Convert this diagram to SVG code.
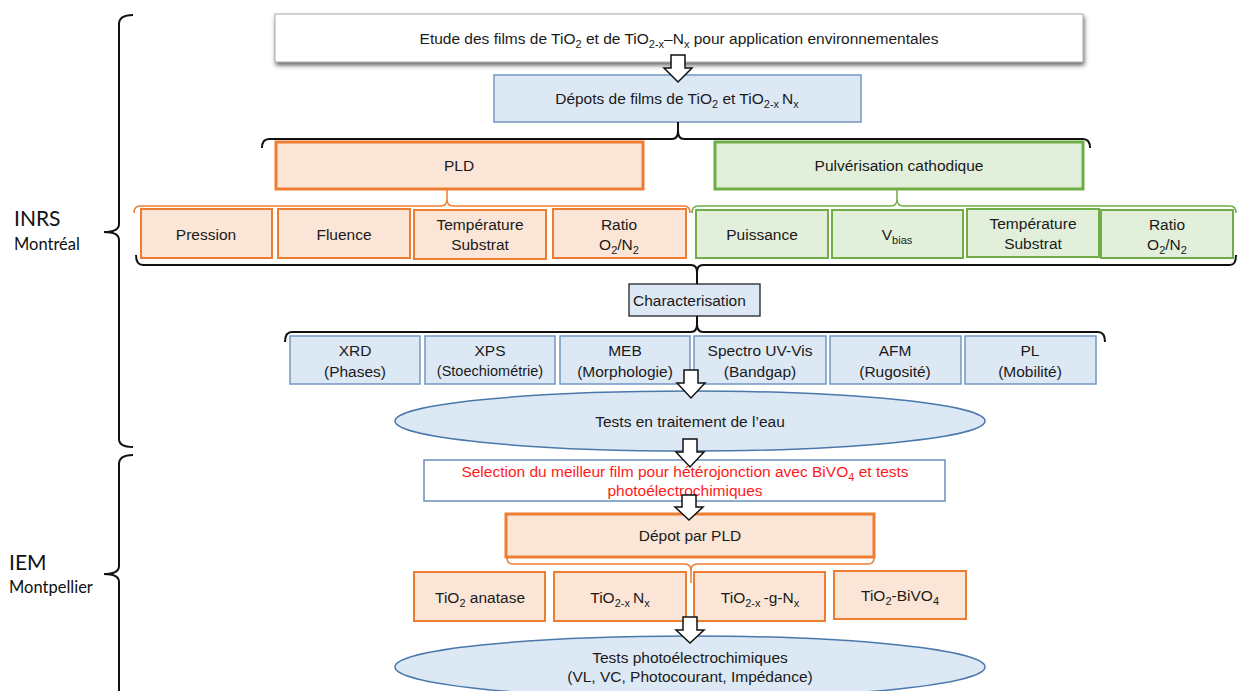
<svg xmlns="http://www.w3.org/2000/svg" width="1238" height="691" viewBox="0 0 1238 691">
<defs>
<filter id="sh" x="-5%" y="-30%" width="110%" height="170%">
<feDropShadow dx="1" dy="3" stdDeviation="2" flood-color="#444" flood-opacity="0.8"/>
</filter>
<style>
text{font-family:"Liberation Sans",Arial,sans-serif;font-size:15.5px;fill:#1a1a1a;text-anchor:middle}
tspan.s{font-size:11px}
text.lbl{font-family:Lato,"Open Sans",sans-serif;text-anchor:start;fill:#111}
text.big{font-size:21px}
text.med{font-size:16.5px}
text.sm{font-size:14.5px}
text.red{fill:#ff1a1a}
.blue{fill:#dde8f5;stroke:#7396c2;stroke-width:1.5}
.or{fill:#fbe5d6;stroke:#ed7d31;stroke-width:2}
.orT{fill:#fbe5d6;stroke:#ed7d31;stroke-width:3}
.gr{fill:#e2efda;stroke:#70ad47;stroke-width:2}
.grT{fill:#e2efda;stroke:#70ad47;stroke-width:3}
.ell{fill:#dde8f5;stroke:#4a78ab;stroke-width:1.5}
.br{fill:none;stroke:#111;stroke-width:2}
.brO{fill:none;stroke:#ed7d31;stroke-width:1.5}
.brG{fill:none;stroke:#70ad47;stroke-width:1.5}
.arr{fill:#fff;stroke:#111;stroke-width:1.5}
</style>
</defs>

<g id="labels">
<text class="lbl big" x="14" y="226">INRS</text>
<text class="lbl med" x="14" y="250">Montréal</text>
<text class="lbl big" x="9" y="570">IEM</text>
<text class="lbl med" x="9" y="593">Montpellier</text>
</g>

<g id="braces">
<path class="br" d="M133,15 Q119,15 119,24 V224 Q119,232 104,232 Q119,232 119,240 V439 Q119,447 133,447"/>
<path class="br" d="M133,455 Q119,455 119,464 V566 Q119,574 104,574 Q119,574 119,582 V700"/>
</g>

<g id="n-top"><rect x="275" y="14" width="808" height="48" fill="#fff" stroke="#aaa" stroke-width="1" filter="url(#sh)"/>
<text x="679" y="44">Etude des films de TiO<tspan class="s" dy="4">2</tspan><tspan dy="-4"> et de TiO</tspan><tspan class="s" dy="4">2-x</tspan><tspan dy="-4">–N</tspan><tspan class="s" dy="4">x</tspan><tspan dy="-4"> pour application environnementales</tspan></text></g>

<g id="n-depots"><rect class="blue" x="494" y="75" width="367" height="47"/>
<text x="677" y="104">Dépots de films de TiO<tspan class="s" dy="4">2</tspan><tspan dy="-4"> et TiO</tspan><tspan class="s" dy="4">2-x </tspan><tspan dy="-4">N</tspan><tspan class="s" dy="4">x</tspan></text></g>

<g id="n-pld"><rect class="orT" x="276" y="142" width="367" height="47"/><text x="459" y="171">PLD</text></g>
<g id="n-pulv"><rect class="grT" x="715" y="142" width="368" height="47"/><text x="899" y="171">Pulvérisation cathodique</text></g>

<g id="n-pression"><rect class="or" x="141" y="209" width="131" height="49"/><text x="206" y="240">Pression</text></g>
<g id="n-fluence"><rect class="or" x="278" y="209" width="132" height="49"/><text x="344" y="240">Fluence</text></g>
<g id="n-temp1"><rect class="or" x="414" y="210" width="132" height="49"/><text x="480" y="230">Température</text><text x="480" y="250">Substrat</text></g>
<g id="n-ratio1"><rect class="or" x="553" y="209" width="133" height="49"/><text x="619" y="230">Ratio</text><text x="619" y="250">O<tspan class="s" dy="4">2</tspan><tspan dy="-4">/N</tspan><tspan class="s" dy="4">2</tspan></text></g>

<g id="n-puissance"><rect class="gr" x="696" y="210" width="132" height="48"/><text x="762" y="240">Puissance</text></g>
<g id="n-vbias"><rect class="gr" x="832" y="210" width="131" height="48"/><text x="897" y="240">V<tspan class="s" dy="4">bias</tspan></text></g>
<g id="n-temp2"><rect class="gr" x="967" y="209" width="132" height="48"/><text x="1033" y="229">Température</text><text x="1033" y="249">Substrat</text></g>
<g id="n-ratio2"><rect class="gr" x="1101" y="210" width="132" height="48"/><text x="1167" y="230">Ratio</text><text x="1167" y="250">O<tspan class="s" dy="4">2</tspan><tspan dy="-4">/N</tspan><tspan class="s" dy="4">2</tspan></text></g>

<g id="n-charac"><rect class="blue" x="629" y="284" width="131" height="32" style="stroke:#222;stroke-width:1.3"/><text x="633" y="306" style="text-anchor:start">Characterisation</text></g>

<g id="n-xrd"><rect class="blue" x="290" y="336" width="130" height="48"/><text x="355" y="356">XRD</text><text x="355" y="377">(Phases)</text></g>
<g id="n-xps"><rect class="blue" x="425" y="336" width="130" height="48"/><text x="490" y="356">XPS</text><text class="sm" x="490" y="376">(Stoechiométrie)</text></g>
<g id="n-meb"><rect class="blue" x="560" y="336" width="130" height="48"/><text x="625" y="356">MEB</text><text x="625" y="377">(Morphologie)</text></g>
<g id="n-spectro"><rect class="blue" x="694" y="336" width="132" height="48"/><text x="760" y="356">Spectro UV-Vis</text><text x="760" y="377">(Bandgap)</text></g>
<g id="n-afm"><rect class="blue" x="830" y="336" width="131" height="48"/><text x="895" y="356">AFM</text><text x="895" y="377">(Rugosité)</text></g>
<g id="n-pl"><rect class="blue" x="965" y="336" width="131" height="48"/><text x="1030" y="356">PL</text><text x="1030" y="377">(Mobilité)</text></g>

<g id="n-tests-eau"><ellipse class="ell" cx="690" cy="421" rx="295" ry="30"/><text x="690" y="427">Tests en traitement de l’eau</text></g>

<g id="n-selection"><rect x="424" y="460" width="521" height="41" fill="#fff" stroke="#6a8fbd" stroke-width="1.5"/>
<text class="red" x="685" y="477">Selection du meilleur film pour hétérojonction avec BiVO<tspan class="s" dy="4">4</tspan><tspan dy="-4"> et tests</tspan></text>
<text class="red" x="685" y="496">photoélectrochimiques</text></g>

<g id="n-depot-pld"><rect class="orT" x="506" y="514" width="368" height="43"/><text x="690" y="541">Dépot par PLD</text></g>

<g id="n-anatase"><rect class="or" x="414" y="572" width="131" height="49"/><text x="480" y="603">TiO<tspan class="s" dy="4">2</tspan><tspan dy="-4"> anatase</tspan></text></g>
<g id="n-tio2xnx"><rect class="or" x="554" y="572" width="132" height="49"/><text x="620" y="603">TiO<tspan class="s" dy="4">2-x </tspan><tspan dy="-4">N</tspan><tspan class="s" dy="4">x</tspan></text></g>
<g id="n-tio2xgnx"><rect class="or" x="694" y="572" width="131" height="49"/><text x="760" y="603">TiO<tspan class="s" dy="4">2-x </tspan><tspan dy="-4">-g-N</tspan><tspan class="s" dy="4">x</tspan></text></g>
<g id="n-bivo4"><rect class="or" x="834" y="571" width="132" height="48"/><text x="900" y="601">TiO<tspan class="s" dy="4">2</tspan><tspan dy="-4">-BiVO</tspan><tspan class="s" dy="4">4</tspan></text></g>

<g id="n-tests-photo"><ellipse class="ell" cx="690" cy="667" rx="295" ry="31"/><text x="690" y="663">Tests photoélectrochimiques</text><text x="690" y="682">(VL, VC, Photocourant, Impédance)</text></g>

<g id="connectors">
<path class="br" d="M678,122 V131 M262,148 Q262,139 269,139 H672 Q678,139 678,131 Q678,139 684,139 H1083 Q1090,139 1090,148"/>
<path class="brO" d="M447,189 V199 M134,213 Q134,206 140,206 H441 Q447,206 447,199 Q447,206 453,206 H684 Q690,206 690,213"/>
<path class="brG" d="M897,189 V199 M692,213 Q692,206 698,206 H891 Q897,206 897,199 Q897,206 903,206 H1230 Q1236,206 1236,213"/>
<path class="br" d="M136,255 Q136,265 143,265 H691 Q697,265 697,272 V284 M697,272 Q697,265 703,265 H1230 Q1236,265 1236,255"/>
<path class="br" d="M697,316 V324 M285,342 Q285,332 292,332 H691 Q697,332 697,324 Q697,332 703,332 H1098 Q1105,332 1105,342"/>
<path class="brO" d="M507,558 Q507,564 513,564 H685 Q691,564 691,571 V583 M691,571 Q691,564 697,564 H868 Q874,564 874,558"/>
<path class="arr" d="M671,55 H685 V68 H692 L678,82 L664,68 H671 Z"/>
<path class="arr" d="M684,370 H698 V383 H705 L691,398 L677,383 H684 Z"/>
<path class="arr" d="M683,439 H697 V452 H704 L690,467 L676,452 H683 Z"/>
<path class="arr" d="M682,495 H696 V507 H703 L689,520 L675,507 H682 Z"/>
<path class="arr" d="M683,617 H697 V630 H704 L690,643 L676,630 H683 Z"/>
</g>
</svg>
